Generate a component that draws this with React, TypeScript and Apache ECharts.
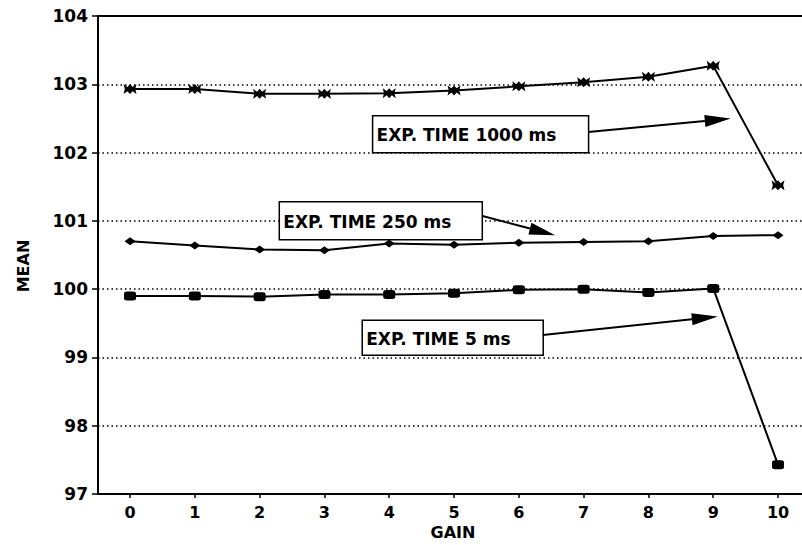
import React, { useEffect, useRef } from "react";
import * as echarts from "echarts";

const gains = [0, 1, 2, 3, 4, 5, 6, 7, 8, 9, 10];
const exp1000 = [102.93, 102.93, 102.86, 102.86, 102.87, 102.91, 102.97, 103.03, 103.11, 103.27, 101.52];
const exp250 = [100.7, 100.64, 100.58, 100.57, 100.67, 100.65, 100.68, 100.69, 100.7, 100.78, 100.79];
const exp5 = [99.9, 99.9, 99.89, 99.92, 99.92, 99.94, 99.99, 100.0, 99.95, 100.01, 97.43];
const seriesNames = ["EXP. TIME 1000 ms", "EXP. TIME 250 ms", "EXP. TIME 5 ms"];
const xTickLabels = gains;

// annotation anchors (data space) and box sizes (px)
const boxCenters = [[5.41, 102.27], [3.87, 101.0], [4.98, 99.29]];
const boxSizes = [[216, 37], [203, 38], [181, 35]];
const arrowFrom = [[7.07, 102.3], [5.44, 101.07], [6.37, 99.33]];
const arrowTo = [[9.27, 102.5], [6.56, 100.79], [9.07, 99.6]];

const FONT = "DejaVu Sans";

const starPath =
  "path://M0,0 L3,2 L5,0 L7,2 L10,0 L9,3.5 L10,7 L7,5 L5,7 L3,5 L0,7 L1,3.5 Z";

export default function App() {
  const ref = useRef<HTMLDivElement>(null);
  useEffect(() => {
    if (!ref.current) return;
    const chart = echarts.init(ref.current, undefined, { renderer: "svg" });
    const mk = (name: string, data: number[], symbol: string, size: any) => ({
      name,
      type: "line",
      data: gains.map((g, i) => [g, data[i]]),
      symbol,
      symbolSize: size,
      showSymbol: true,
      lineStyle: { color: "#000", width: 2 },
      itemStyle: { color: "#000", borderWidth: 0 },
      z: 5,
    });
    const option: any = {
      animation: false,
      backgroundColor: "#fff",
      grid: { left: 98, right: 0, top: 16, bottom: 51, containLabel: false },
      xAxis: [
        {
          type: "value",
          min: -0.494,
          max: 10.37,
          axisLine: { show: true, onZero: false, lineStyle: { color: "#000", width: 2 } },
          axisTick: {
            show: true,
            customValues: xTickLabels,
            length: 4,
            lineStyle: { color: "#000", width: 1.5 },
          },
          axisLabel: {
            customValues: xTickLabels,
            color: "#000",
            fontFamily: FONT,
            fontWeight: "bold",
            fontSize: 16,
            margin: 10,
          },
          splitLine: { show: false },
        },
        {
          type: "value",
          position: "top",
          min: -0.494,
          max: 10.37,
          axisLine: { show: true, onZero: false, lineStyle: { color: "#000", width: 2 } },
          axisTick: { show: false },
          axisLabel: { show: false },
          splitLine: { show: false },
        },
      ],
      yAxis: {
        type: "value",
        min: 97,
        max: 104,
        interval: 1,
        axisLine: { show: true, onZero: false, lineStyle: { color: "#000", width: 2 } },
        axisTick: { show: true, length: 6, lineStyle: { color: "#000", width: 1.5 } },
        axisLabel: {
          color: "#000",
          fontFamily: FONT,
          fontWeight: "bold",
          fontSize: 17,
          margin: 10,
        },
        splitLine: {
          show: true,
          lineStyle: { color: "#000", width: 1.5, type: [1.5, 3] },
        },
      },
      series: [
        mk(seriesNames[0], exp1000, starPath, [13, 10]),
        mk(seriesNames[1], exp250, "diamond", [11, 8]),
        mk(seriesNames[2], exp5, "roundRect", [12, 9]),
      ],
    };
    chart.setOption(option);

    const graphics: any[] = [];
    for (let i = 0; i < 3; i++) {
      const c = chart.convertToPixel({ xAxisIndex: 0, yAxisIndex: 0 }, boxCenters[i]) as number[];
      const [w, h] = boxSizes[i];
      graphics.push({
        type: "rect",
        shape: { x: c[0] - w / 2, y: c[1] - h / 2, width: w, height: h },
        style: { fill: "#fff", stroke: "#000", lineWidth: 1.5 },
        z: 10,
      });
      graphics.push({
        type: "text",
        x: c[0] - w / 2 + 4,
        y: c[1] + 1,
        style: {
          text: seriesNames[i],
          fill: "#000",
          font: `bold 17px "${FONT}"`,
          verticalAlign: "middle",
          align: "left",
        },
        z: 11,
      });
      const a = chart.convertToPixel({ xAxisIndex: 0, yAxisIndex: 0 }, arrowFrom[i]) as number[];
      const b = chart.convertToPixel({ xAxisIndex: 0, yAxisIndex: 0 }, arrowTo[i]) as number[];
      const dx = b[0] - a[0];
      const dy = b[1] - a[1];
      const len = Math.sqrt(dx * dx + dy * dy);
      const ux = dx / len;
      const uy = dy / len;
      const hl = 26;
      const hw = 6;
      const bx = b[0] - ux * hl;
      const by = b[1] - uy * hl;
      graphics.push({
        type: "line",
        shape: { x1: a[0], y1: a[1], x2: bx, y2: by },
        style: { stroke: "#000", lineWidth: 2 },
        z: 10,
      });
      graphics.push({
        type: "polygon",
        shape: {
          points: [
            [b[0], b[1]],
            [bx - uy * hw, by + ux * hw],
            [bx + uy * hw, by - ux * hw],
          ],
        },
        style: { fill: "#000" },
        z: 10,
      });
    }
    graphics.push({
      type: "text",
      x: 453,
      y: 532,
      style: {
        text: "GAIN",
        fill: "#000",
        font: `bold 16px "${FONT}"`,
        align: "center",
        verticalAlign: "middle",
      },
    });
    graphics.push({
      type: "text",
      x: 23,
      y: 266,
      rotation: Math.PI / 2,
      style: {
        text: "MEAN",
        fill: "#000",
        font: `bold 16px "${FONT}"`,
        align: "center",
        verticalAlign: "middle",
      },
    });
    chart.setOption({ graphic: graphics });
    return () => chart.dispose();
  }, []);
  return (
    <div
      ref={ref}
      style={{ position: "fixed", left: 0, top: 0, width: 802, height: 545, background: "#fff" }}
    />
  );
}
